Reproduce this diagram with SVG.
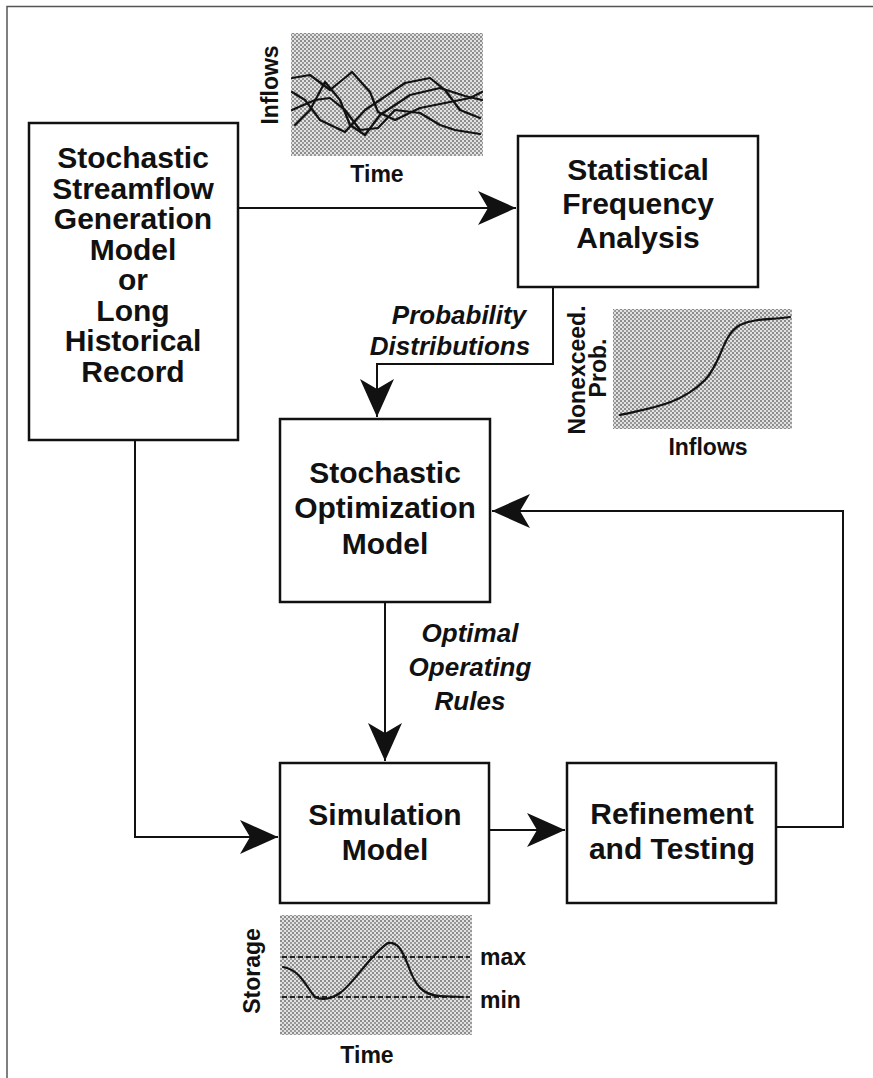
<svg xmlns="http://www.w3.org/2000/svg" width="873" height="1078" viewBox="0 0 873 1078">
  <defs>
    <style>
      .box { fill: #fff; stroke: #111; stroke-width: 2.5; }
      .lbl { font-family: "Liberation Sans", Arial, sans-serif; font-weight: bold; font-size: 30px; fill: #111; text-anchor: middle; }
      .ital { font-family: "Liberation Sans", Arial, sans-serif; font-weight: bold; font-style: italic; font-size: 26px; fill: #111; text-anchor: middle; }
      .ax { font-family: "Liberation Sans", Arial, sans-serif; font-weight: bold; font-size: 23px; fill: #111; text-anchor: middle; }
      .ax-l { font-family: "Liberation Sans", Arial, sans-serif; font-weight: bold; font-size: 23px; fill: #111; text-anchor: start; }
      .wire { fill: none; stroke: #111; stroke-width: 2; }
      .curve { fill: none; stroke: #111; stroke-width: 2.2; stroke-linejoin: round; stroke-linecap: round; }
      .dash { fill: none; stroke: #222; stroke-width: 2; stroke-dasharray: 5 3; }
      .plot { fill: url(#stipple); }
      .frame { fill: none; stroke: #555; stroke-width: 1.5; }
    </style>
    <pattern id="stipple" width="4" height="4" patternUnits="userSpaceOnUse">
      <rect width="4" height="4" fill="#e2e2e2"/>
      <rect x="0" y="0" width="2" height="2" fill="#8c8c8c"/>
      <rect x="2" y="2" width="2" height="2" fill="#999"/>
    </pattern>
    <marker id="head" viewBox="-40 -20 42 40" refX="0" refY="0" markerWidth="42" markerHeight="40" markerUnits="userSpaceOnUse" orient="auto">
      <path d="M0,0 Q-20,-9 -38,-17 L-28,0 L-38,17 Q-20,9 0,0 Z" fill="#111"/>
    </marker>
  </defs>

  <rect width="873" height="1078" fill="#fff"/>
  <!-- page frame -->
  <path class="frame" d="M7,1078 L7,6.5 L873,6.5"/>

  <!-- connectors -->
  <g id="connectors">
    <path class="wire" d="M238,208 L516,208" marker-end="url(#head)"/>
    <path class="wire" d="M553,287 L553,364 L377,364 L377,417" marker-end="url(#head)"/>
    <path class="wire" d="M385,602 L385,761" marker-end="url(#head)"/>
    <path class="wire" d="M135,440 L135,837 L278,837" marker-end="url(#head)"/>
    <path class="wire" d="M489,830 L565,830" marker-end="url(#head)"/>
    <path class="wire" d="M776,827 L843,827 L843,511 L492,511" marker-end="url(#head)"/>
  </g>

  <!-- source box -->
  <g id="streamflow">
    <rect class="box" x="29" y="123" width="209" height="317"/>
    <text class="lbl" x="133" y="168" font-size="31">Stochastic</text>
    <text class="lbl" x="133" y="199" font-size="31">Streamflow</text>
    <text class="lbl" x="133" y="229" font-size="31">Generation</text>
    <text class="lbl" x="133" y="260" font-size="31">Model</text>
    <text class="lbl" x="133" y="290" font-size="31">or</text>
    <text class="lbl" x="133" y="321" font-size="31">Long</text>
    <text class="lbl" x="133" y="351" font-size="31">Historical</text>
    <text class="lbl" x="133" y="382" font-size="31">Record</text>
  </g>

  <g id="frequency">
    <rect class="box" x="518" y="136" width="240" height="151"/>
    <text class="lbl" x="638" y="180">Statistical</text>
    <text class="lbl" x="638" y="214">Frequency</text>
    <text class="lbl" x="638" y="248">Analysis</text>
  </g>

  <g id="optimization">
    <rect class="box" x="280" y="419" width="210" height="183"/>
    <text class="lbl" x="385" y="483">Stochastic</text>
    <text class="lbl" x="385" y="518">Optimization</text>
    <text class="lbl" x="385" y="554">Model</text>
  </g>

  <g id="simulation">
    <rect class="box" x="280" y="763" width="209" height="140"/>
    <text class="lbl" x="385" y="825">Simulation</text>
    <text class="lbl" x="385" y="860">Model</text>
  </g>

  <g id="refinement">
    <rect class="box" x="567" y="763" width="209" height="140"/>
    <text class="lbl" x="672" y="824" font-size="31">Refinement</text>
    <text class="lbl" x="672" y="859" font-size="31">and Testing</text>
  </g>

  <!-- flow labels -->
  <g id="label-probability">
    <text class="ital" x="459" y="324" font-size="24">Probability</text>
    <text class="ital" x="450" y="355" font-size="24">Distributions</text>
  </g>
  <g id="label-rules">
    <text class="ital" x="470" y="642">Optimal</text>
    <text class="ital" x="470" y="676">Operating</text>
    <text class="ital" x="470" y="710">Rules</text>
  </g>

  <!-- inflow traces -->
  <g id="plot-inflows">
    <rect class="plot" x="291" y="33" width="192" height="123"/>
    <path class="curve" d="M292,78 L310,75 L330,90 L352,72 L370,92 L378,112 L395,120 L420,108 L445,103 L470,98 L482,92"/>
    <path class="curve" d="M292,92 L305,100 L320,120 L345,132 L365,110 L380,100 L405,83 L430,78 L445,90 L460,110 L480,118"/>
    <path class="curve" d="M292,110 L315,100 L330,98 L345,110 L360,130 L378,128 L395,110 L420,113 L440,125 L455,130 L480,134"/>
    <path class="curve" d="M295,125 L310,110 L325,82 L340,100 L350,125 L365,135 L380,115 L410,95 L440,88 L465,96 L482,100"/>
    <text class="ax" transform="translate(278,85) rotate(-90)">Inflows</text>
    <text class="ax" x="377" y="182">Time</text>
  </g>

  <!-- cumulative distribution -->
  <g id="plot-probability">
    <rect class="plot" x="613" y="309" width="179" height="120"/>
    <path class="curve" d="M620,415 C650,408 680,405 705,380 C722,362 722,335 740,325 C755,318 770,320 790,317"/>
    <text class="ax" font-size="24" transform="translate(585,370) rotate(-90)">Nonexceed.</text>
    <text class="ax" font-size="24" transform="translate(606,368) rotate(-90)">Prob.</text>
    <text class="ax" x="708" y="455">Inflows</text>
  </g>

  <!-- storage trace -->
  <g id="plot-storage">
    <rect class="plot" x="280" y="915" width="192" height="120"/>
    <line class="dash" x1="282" y1="957" x2="470" y2="957"/>
    <line class="dash" x1="282" y1="997" x2="470" y2="997"/>
    <path class="curve" d="M283,967 C300,970 305,985 315,997 C320,1000 330,1000 340,993 C355,982 370,955 388,943 C398,942 402,950 408,965 C415,985 422,995 440,996 L463,997"/>
    <text class="ax" font-size="24" transform="translate(260,971) rotate(-90)">Storage</text>
    <text class="ax-l" x="480" y="965">max</text>
    <text class="ax-l" x="480" y="1008">min</text>
    <text class="ax" x="367" y="1063">Time</text>
  </g>
</svg>
